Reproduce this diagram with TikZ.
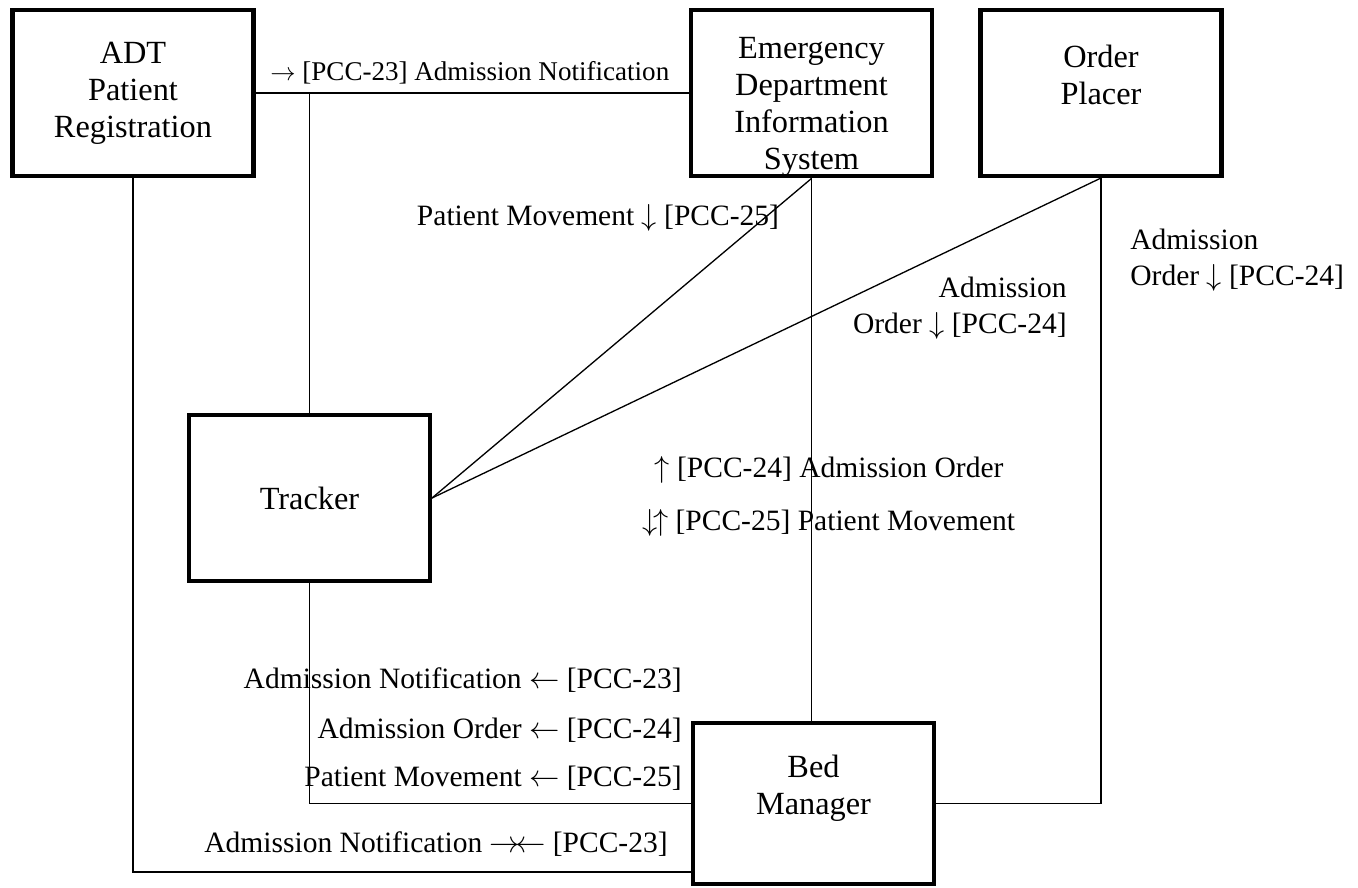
\documentclass[tikz,border=0pt]{standalone}
\usepackage{fontspec}
\setmainfont{Liberation Serif}
\usepackage{tikz}
\usetikzlibrary{positioning}
\pgfdeclarelayer{nodelayer}
\pgfdeclarelayer{edgelayer}
\pgfsetlayers{nodelayer,edgelayer,main}

\begin{document}
\begin{tikzpicture}[
    actor/.style={draw, line width=2.3pt, minimum width=4.82cm, minimum height=3.32cm, align=center, inner sep=0pt, font=\fontsize{18.4}{21}\selectfont},
    msg/.style={inner sep=0pt, font=\fontsize{16.8}{20.5}\selectfont},
    link/.style={line width=0.75pt}
  ]
  \useasboundingbox (0, 0) rectangle (27.16, -17.76);
  \begin{pgfonlayer}{nodelayer}
    \node [actor] (0) at (2.66, -1.86) {ADT\\Patient\\Registration};
    \node [actor] (1) at (16.23, -1.86) {\rule{0pt}{28pt}Emergency\\Department\\Information\\System};
    \node [actor] (2) at (22.02, -1.86) {Order\\Placer\\\mbox{}};
    \node [actor] (3) at (6.19, -9.96) {Tracker};
    \node [actor, minimum height=3.22cm] (4) at (16.27, -16.07) {Bed\\Manager\\\mbox{}};
    \node [msg, anchor=west, font=\fontsize{15.4}{19}\selectfont] (5) at (5.4, -1.46) {$\rightarrow$ [PCC-23] Admission Notification};
    \node [msg] (6) at (11.96, -4.36) {Patient Movement $\downarrow$ [PCC-25]};
    \node [msg, anchor=east, align=right] (7) at (21.34, -6.16) {Admission\\Order $\downarrow$ [PCC-24]};
    \node [msg, anchor=west, align=left] (8) at (22.6, -5.2) {Admission\\Order $\downarrow$ [PCC-24]};
    \node [msg] (9) at (16.58, -9.4) {$\uparrow$ [PCC-24] Admission Order};
    \node [msg] (10) at (16.58, -10.46) {$\downarrow\!\uparrow$ [PCC-25] Patient Movement};
    \node [msg, anchor=east] (11) at (13.64, -13.6) {Admission Notification $\leftarrow$ [PCC-23]};
    \node [msg, anchor=east] (12) at (13.64, -14.6) {Admission Order $\leftarrow$ [PCC-24]};
    \node [msg, anchor=east] (13) at (13.64, -15.56) {Patient Movement $\leftarrow$ [PCC-25]};
    \node [msg, anchor=east] (14) at (13.36, -16.88) {Admission Notification $\rightarrow\!\leftarrow$ [PCC-23]};
  \end{pgfonlayer}
  \begin{pgfonlayer}{edgelayer}
    \coordinate (15) at (3.north |- 0.east);
    \draw [link] (0.east) to (1.west);
    \draw [link] (15) to (3.north);
    \draw [link] (0.south) |- ([yshift=-1.37cm]4.west);
    \draw [link] (3.south) |- (4.west);
    \draw [link] (1.south) to (3.east);
    \draw [link] (1.south) to (1.south |- 4.north);
    \draw [link] (2.south) to (3.east);
    \draw [link] (2.south) |- (4.east);
  \end{pgfonlayer}
\end{tikzpicture}
\end{document}
